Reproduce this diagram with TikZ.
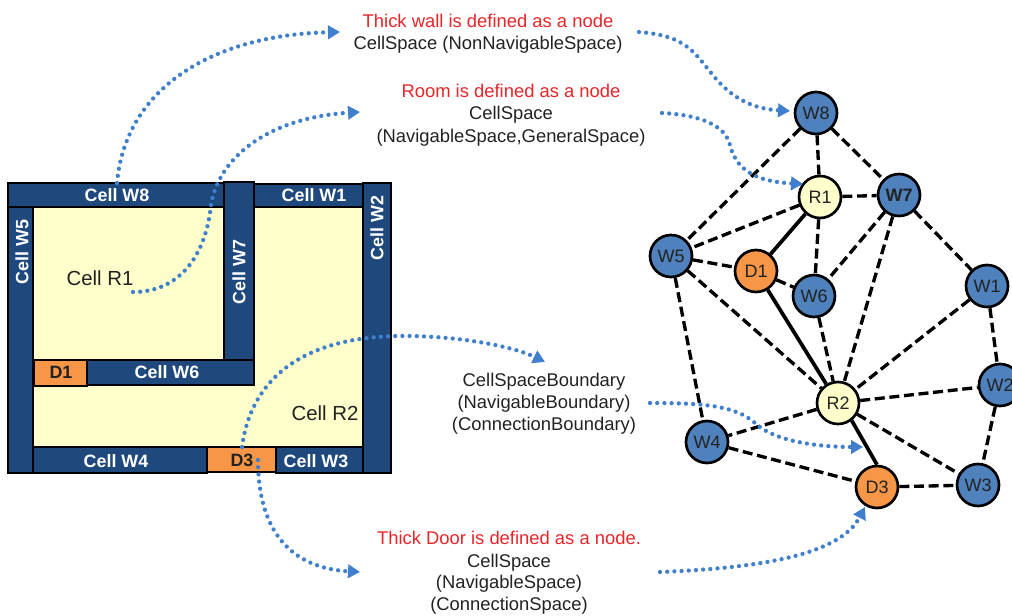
\documentclass[tikz,border=0pt]{standalone}
\usepackage{fontspec}
\setmainfont{Liberation Sans}
\usetikzlibrary{arrows.meta}
\definecolor{wallblue}{HTML}{1F497D}
\definecolor{nodeblue}{HTML}{4F81BD}
\definecolor{roomyellow}{HTML}{FFFFCC}
\definecolor{doororange}{HTML}{F79646}
\definecolor{dotblue}{HTML}{3F7FCC}
\definecolor{redtext}{HTML}{E8262A}
\definecolor{inktext}{HTML}{222222}
\tikzset{
  wall/.style={draw=black,line width=1.5pt,fill=wallblue},
  room/.style={fill=roomyellow,draw=black!70!roomyellow,line width=0.8pt},
  door/.style={draw=black,line width=1.5pt,fill=doororange},
  celltext/.style={font=\bfseries\fontsize{13.4}{15}\selectfont,text=white,inner sep=0pt},
  doortext/.style={font=\bfseries\fontsize{13.4}{15}\selectfont,text=inktext,inner sep=0pt},
  roomtext/.style={font=\fontsize{15.3}{18}\selectfont,text=inktext,inner sep=0pt},
  graphnode/.style={circle,draw=black,line width=2pt,minimum size=31.5pt,inner sep=0pt,text=inktext,font=\fontsize{13.5}{16}\selectfont},
  wn/.style={graphnode,fill=nodeblue},
  rn/.style={graphnode,fill=roomyellow},
  dn/.style={graphnode,fill=doororange},
  link/.style={draw=black,line width=2.5pt,dash pattern=on 7.5pt off 3.5pt},
  solidlink/.style={draw=black,line width=2.8pt},
  dotcurve/.style={draw=dotblue,line width=3.2pt,line cap=round,dash pattern=on 0pt off 5.4pt},
  dotarrow/.style={dotcurve,-{Triangle[length=9pt,width=10pt,fill=dotblue]}},
  redlabel/.style={font=\fontsize{13.8}{16}\selectfont,text=redtext,inner sep=0pt},
  blacklabel/.style={font=\fontsize{13.8}{16}\selectfont,text=inktext,inner sep=0pt},
}
\begin{document}
\begin{tikzpicture}[x=0.75pt,y=-0.75pt]
\clip (0,0) rectangle (1012,616);
\fill[white] (0,0) rectangle (1012,616);
% floor plan
\path[room] (33,207) rectangle (363,447);
\path[room] (33,207) rectangle (224,360);
\path[wall] (8,183) rectangle (224,207);
\path[wall] (8,207) rectangle (33,473);
\path[wall] (254,184) rectangle (363,207);
\path[wall] (363,183) rectangle (390.5,473);
\path[wall] (224,182) rectangle (254,360);
\path[wall] (87,360) rectangle (254,385);
\path[door] (34,360) rectangle (87,386);
\path[wall] (33,447) rectangle (207,473);
\path[door] (207,447) rectangle (276,472);
\path[wall] (276,447) rectangle (363,473);
\node[celltext] (cw8) at (117,195.5) {Cell W8};
\node[celltext] (cw1) at (314,195.5) {Cell W1};
\node[celltext,rotate=90] (cw2) at (377,228) {Cell W2};
\node[celltext,rotate=90] (cw5) at (22,252) {Cell W5};
\node[celltext,rotate=90] (cw7) at (239,272) {Cell W7};
\node[celltext] (cw6) at (167,372) {Cell W6};
\node[celltext] (cw4) at (116,461) {Cell W4};
\node[celltext] (cw3) at (316,461) {Cell W3};
\node[doortext] (cd1) at (61,372) {D1};
\node[doortext] (cd3) at (242,460) {D3};
\node[roomtext] (cr1) at (100,278) {Cell R1};
\node[roomtext] (cr2) at (325,413) {Cell R2};
% graph
\node[wn] (W8) at (816,113) {W8};
\node[rn] (R1) at (820,197) {R1};
\node[wn,font=\bfseries\fontsize{13.5}{16}\selectfont] (W7) at (899,195) {W7};
\node[wn] (W5) at (671,256) {W5};
\node[dn] (D1) at (756,271) {D1};
\node[wn] (W6) at (814,296) {W6};
\node[wn] (W1) at (987,286) {W1};
\node[rn] (R2) at (838,403) {R2};
\node[wn] (W2) at (1000,385) {W2};
\node[wn] (W4) at (707,442) {W4};
\node[dn] (D3) at (877,487) {D3};
\node[wn] (W3) at (978,485) {W3};
\foreach \a/\b in {W8/W5,W8/R1,W8/W7,R1/W7,R1/W5,R1/W6,W7/W6,W7/R2,W7/W1,W5/D1,W5/R2,W5/W4,D1/W6,W6/R2,W1/R2,W1/W2,R2/W2,R2/W4,R2/W3,W4/D3,D3/W3,W2/W3}
  \draw[link] (\a) -- (\b);
\foreach \a/\b in {R1/D1,D1/R2}
  \draw[solidlink] (\a) -- (\b);
\draw[solidlink] (R2.-52) -- (D3.90);
% labels
\node[redlabel] (t1a) at (488,21) {Thick wall is defined as a node};
\node[blacklabel] (t1b) at (488,44.5) {CellSpace (NonNavigableSpace)};
\node[redlabel] (t2a) at (511,91) {Room is defined as a node};
\node[blacklabel] (t2b) at (511,114.5) {CellSpace};
\node[blacklabel] (t2c) at (511,137.5) {(NavigableSpace,GeneralSpace)};
\node[blacklabel] (t3a) at (544,381.5) {CellSpaceBoundary};
\node[blacklabel] (t3b) at (544,403.5) {(NavigableBoundary)};
\node[blacklabel] (t3c) at (544,425.5) {(ConnectionBoundary)};
\node[redlabel] (t4a) at (509,538) {Thick Door is defined as a node.};
\node[blacklabel] (t4b) at (509,562.5) {CellSpace};
\node[blacklabel] (t4c) at (509,583.5) {(NavigableSpace)};
\node[blacklabel] (t4d) at (509,605.5) {(ConnectionSpace)};
% dotted curves
\coordinate (s1) at (117,183);
\coordinate (e1) at (340,32);
\coordinate (s2) at (133,292);
\coordinate (e2) at (360,112);
\coordinate (s3) at (639,32);
\coordinate (e3) at (790,111);
\coordinate (s4) at (662,113);
\coordinate (e4) at (803,184);
\coordinate (s5) at (258,460);
\coordinate (e5) at (360,572);
\coordinate (s6) at (242,447);
\coordinate (e6) at (545,362);
\coordinate (s7) at (650,403);
\coordinate (e7) at (863,447);
\coordinate (s8) at (660,572);
\coordinate (e8) at (865,507);
\draw[dotarrow] (s1) .. controls (125,90) and (210,35) .. (e1);
\draw[dotarrow] (s2) .. controls (180,292) and (206,255) .. (211,205) .. controls (218,160) and (265,118) .. (e2);
\draw[dotarrow] (s3) .. controls (690,36) and (695,55) .. (717,80) .. controls (735,100) and (755,109) .. (e3);
\draw[dotarrow] (s4) .. controls (700,115) and (725,125) .. (730,145) .. controls (737,175) and (765,182) .. (e4);
\draw[dotarrow] (s5) .. controls (258,530) and (290,568) .. (e5);
\draw[dotarrow] (s6) .. controls (250,385) and (295,338) .. (397,336) .. controls (450,335) and (510,345) .. (e6);
\draw[dotarrow] (s7) .. controls (700,403) and (735,405) .. (755,423) .. controls (775,442) and (820,447) .. (e7);
\draw[dotarrow] (s8) .. controls (760,568) and (840,555) .. (e8);
\end{tikzpicture}
\end{document}
